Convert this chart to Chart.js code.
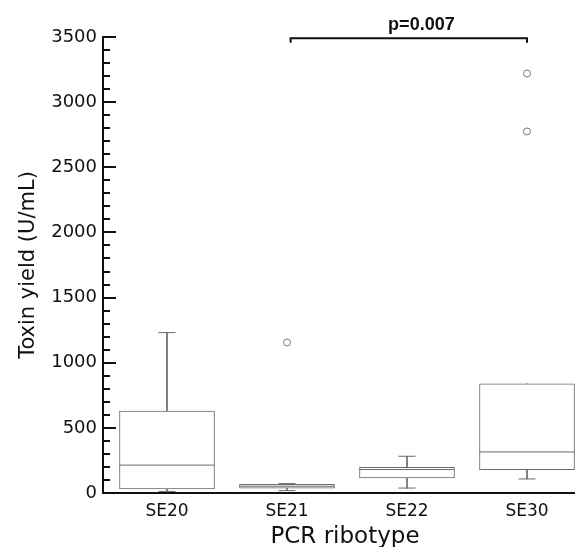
<!DOCTYPE html>
<html>
<head>
<meta charset="utf-8">
<script src="https://cdn.jsdelivr.net/npm/chart.js@4.4.1/dist/chart.umd.min.js"></script>
<style>
html,body{margin:0;padding:0;overflow:hidden;background:#fff;}
#wrap{width:587px;height:547px;}
</style>
</head>
<body>
<div id="wrap"><canvas id="c" width="587" height="547"></canvas></div>
<script>
// ---- data ----
const categories = ['SE20', 'SE21', 'SE22', 'SE30'];
const whiskerLow  = [12, 18, 38, 108];
const quartile1   = [31, 38, 115, 179];
const medians     = [214, 52, 180, 315];
const quartile3   = [628, 66, 197, 838];
const whiskerHigh = [1231, 72, 282, 838];
const outliers    = [[], [1155], [], [2775, 3220]];
const yTicks = [0, 500, 1000, 1500, 2000, 2500, 3000, 3500];
const bracketFrom = 1.03, bracketTo = 3.0, bracketY = 3490, bracketDrop = 35;
const pLabel = 'p=0.007', pLabelX = 2.12;

const idx = categories.map((_, i) => i);
const boxData = idx.map(i => ({x: i, y: [quartile1[i], quartile3[i]]}));
const whiskerData = idx.map(i => ({x: i, y: [whiskerLow[i], whiskerHigh[i]]}));
const medianData = idx.map(i => ({x: i, y: medians[i]}));
const capData = [];
idx.forEach(i => {
  if (whiskerLow[i] < quartile1[i]) capData.push({x: i, y: whiskerLow[i]});
  if (whiskerHigh[i] > quartile3[i]) capData.push({x: i, y: whiskerHigh[i]});
});
const outlierData = [];
idx.forEach(i => outliers[i].forEach(v => outlierData.push({x: i, y: v})));

const GRAY = '#6a6a6a';

const innerTicks = {
  id: 'innerTicks',
  afterDraw(chart) {
    const ctx = chart.ctx, y = chart.scales.y, area = chart.chartArea;
    ctx.save();
    ctx.strokeStyle = '#111';
    ctx.lineWidth = 2;
    y.ticks.forEach(t => {
      const py = Math.round(y.getPixelForValue(t.value));
      const major = yTicks.includes(t.value);
      ctx.beginPath();
      ctx.moveTo(area.left, py);
      ctx.lineTo(area.left + (major ? 13 : 7), py);
      ctx.stroke();
    });
    // significance bracket
    const x = chart.scales.x;
    const x1 = x.getPixelForValue(bracketFrom), x2 = x.getPixelForValue(bracketTo);
    const by = y.getPixelForValue(bracketY), bd = y.getPixelForValue(bracketY - bracketDrop);
    ctx.lineWidth = 2;
    ctx.beginPath();
    ctx.moveTo(x1, bd); ctx.lineTo(x1, by); ctx.lineTo(x2, by); ctx.lineTo(x2, bd);
    ctx.stroke();
    ctx.fillStyle = '#111';
    ctx.font = 'bold 18px "Liberation Sans", Arial, sans-serif';
    ctx.textAlign = 'center';
    ctx.textBaseline = 'alphabetic';
    ctx.fillText(pLabel, x.getPixelForValue(pLabelX), by - 8);
    ctx.restore();
  }
};

new Chart(document.getElementById('c'), {
  type: 'bar',
  data: {
    datasets: [
      {type: 'scatter', data: medianData, pointStyle: 'line', pointRadius: 47.5, borderColor: GRAY, borderWidth: 1, pointHoverRadius: 47.5},
      {type: 'scatter', data: outlierData, pointStyle: 'circle', pointRadius: 3.5, borderColor: '#777', backgroundColor: '#fff', borderWidth: 1},
      {type: 'scatter', data: capData, pointStyle: 'line', pointRadius: 8.5, borderColor: GRAY, borderWidth: 1},
      {type: 'bar', data: boxData, grouped: false, barThickness: 95, backgroundColor: '#fff', borderColor: GRAY, borderWidth: 1, borderSkipped: false},
      {type: 'bar', data: whiskerData, grouped: false, barThickness: 1, backgroundColor: GRAY, borderWidth: 0}
    ]
  },
  options: {
    responsive: false,
    animation: false,
    events: [],
    layout: {autoPadding: false, padding: {top: 37, right: 0, left: 0, bottom: 0}},
    plugins: {legend: {display: false}, tooltip: {enabled: false}},
    scales: {
      x: {
        type: 'linear',
        offset: false,
        min: -0.5333, max: 3.5,
        grid: {display: false, drawTicks: false},
        border: {display: true, color: '#111', width: 2},
        afterBuildTicks: s => { s.ticks = idx.map(v => ({value: v})); },
        afterFit: s => { s.height = 54; },
        ticks: {
          callback: v => categories[v],
          color: '#111', padding: 8,
          font: {family: '"DejaVu Sans", sans-serif', size: 17},
          autoSkip: false, maxRotation: 0
        },
        title: {display: true, text: 'PCR ribotype', color: '#111',
          font: {family: '"DejaVu Sans", sans-serif', size: 23, lineHeight: 1.0}, padding: {top: 0, bottom: -2}}
      },
      y: {
        min: 0, max: 3500,
        grid: {display: false, drawTicks: false},
        border: {display: true, color: '#111', width: 2},
        afterFit: s => { s.width = 103; },
        ticks: {
          stepSize: 100, autoSkip: false,
          callback: v => yTicks.includes(v) ? String(v) : '',
          color: '#111', padding: 6,
          font: {family: '"DejaVu Sans", sans-serif', size: 18}
        },
        title: {display: true, text: 'Toxin yield (U/mL)', color: '#111',
          font: {family: '"DejaVu Sans", sans-serif', size: 21, lineHeight: 1.2}, padding: {top: 16, bottom: 0}}
      }
    }
  },
  plugins: [innerTicks]
});
</script>
</body>
</html>
